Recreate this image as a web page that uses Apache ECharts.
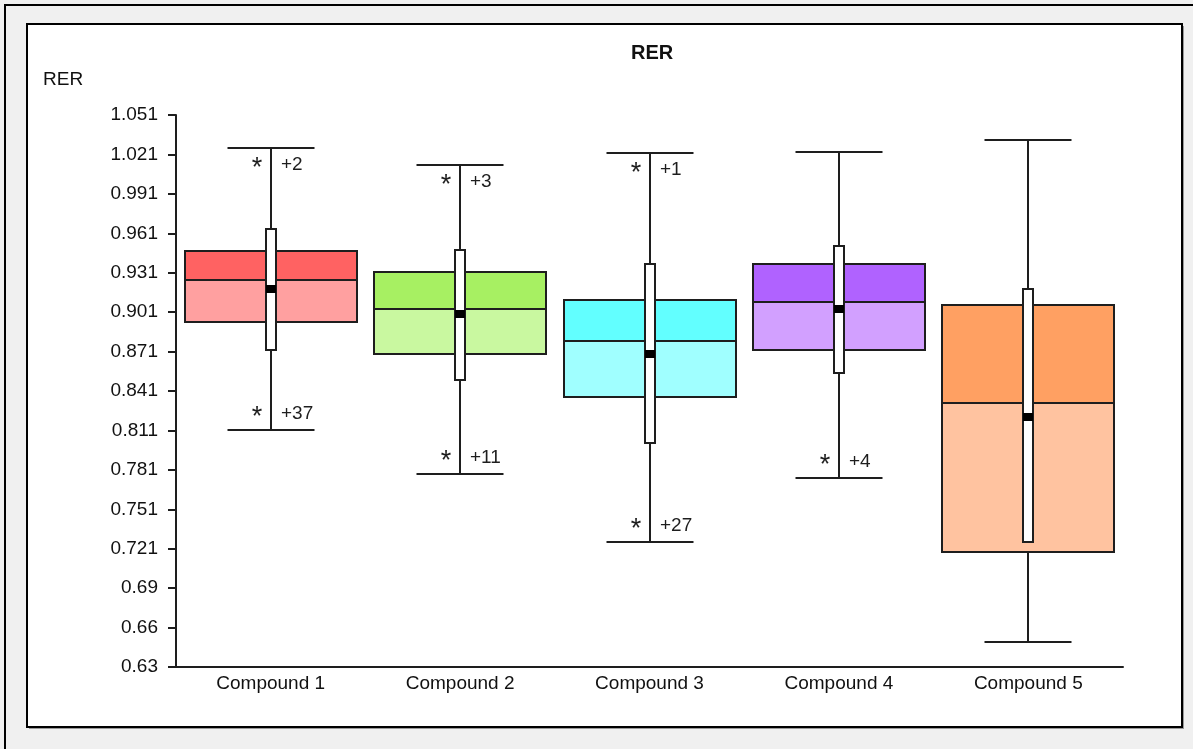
<!DOCTYPE html>
<html><head><meta charset="utf-8">
<script src="https://cdn.jsdelivr.net/npm/echarts@6/dist/echarts.min.js"></script>
<style>html,body{margin:0;padding:0;background:#f0f0f0;} #c{width:1193px;height:749px;}</style>
</head><body><div id="c"></div>
<script>
const categories = ['Compound 1', 'Compound 2', 'Compound 3', 'Compound 4', 'Compound 5'];
const whiskerLow  = [0.811, 0.777, 0.725, 0.774, 0.649];
const q1          = [0.893, 0.869, 0.836, 0.872, 0.718];
const median      = [0.925, 0.903, 0.879, 0.908, 0.831];
const q3          = [0.947, 0.931, 0.910, 0.937, 0.906];
const whiskerHigh = [1.026, 1.013, 1.022, 1.023, 1.032];
const barLow      = [0.872, 0.849, 0.801, 0.854, 0.725];
const barHigh     = [0.964, 0.948, 0.937, 0.951, 0.918];
const mean        = [0.918, 0.899, 0.869, 0.903, 0.821];
const topOutliers    = ['+2', '+3', '+1', '', ''];
const bottomOutliers = ['+37', '+11', '+27', '+4', ''];
const tickLabels = ['0.63', '0.66', '0.69', '0.721', '0.751', '0.781', '0.811', '0.841',
                    '0.871', '0.901', '0.931', '0.961', '0.991', '1.021', '1.051'];
const yMin = 0.63, yMax = 1.051;
const upperColors = ['#ff6262', '#a7f062', '#62ffff', '#b062ff', '#ffa062'];
const lowerColors = ['#ffa0a0', '#c9f8a0', '#a0ffff', '#d2a0ff', '#ffc3a0'];

const step = (yMax - yMin) / (tickLabels.length - 1);
const tickValues = tickLabels.map((_, i) => yMin + i * step);
const FONT = 'Liberation Sans';
const INK = '#1e1e1e';

const data = categories.map((c, i) => [i, whiskerLow[i], q1[i], median[i], q3[i], whiskerHigh[i], barLow[i], barHigh[i], mean[i]]);

function renderItem(params, api) {
  const i = api.value(0);
  const cx = Math.round(api.coord([i, yMin])[0]);
  const band = api.size([1, 0])[0];
  const boxW = Math.round(band * 0.91), capW = Math.round(band * 0.46), barW = 10;
  const y = v => Math.round(api.coord([i, v])[1]);
  const yWL = y(api.value(1)), yQ1 = y(api.value(2)), yMed = y(api.value(3)), yQ3 = y(api.value(4));
  const yWH = y(api.value(5)), yBL = y(api.value(6)), yBH = y(api.value(7)), yMean = y(api.value(8));
  const bx = cx - Math.round(boxW / 2);
  const stroke = { stroke: INK, lineWidth: 2 };
  const kids = [
    { type: 'line', shape: { x1: cx, y1: yWH, x2: cx, y2: yWL }, style: stroke },
    { type: 'line', shape: { x1: cx - capW / 2, y1: yWH, x2: cx + capW / 2, y2: yWH }, style: stroke },
    { type: 'line', shape: { x1: cx - capW / 2, y1: yWL, x2: cx + capW / 2, y2: yWL }, style: stroke },
    { type: 'rect', shape: { x: bx, y: yMed, width: boxW, height: yQ1 - yMed }, style: { fill: lowerColors[i], stroke: INK, lineWidth: 2 } },
    { type: 'rect', shape: { x: bx, y: yQ3, width: boxW, height: yMed - yQ3 }, style: { fill: upperColors[i], stroke: INK, lineWidth: 2 } },
    { type: 'rect', shape: { x: cx - barW / 2, y: yBH, width: barW, height: yBL - yBH }, style: { fill: '#ffffff', stroke: INK, lineWidth: 2 } },
    { type: 'rect', shape: { x: cx - barW / 2, y: yMean - 4, width: barW, height: 8 }, style: { fill: '#000000' } }
  ];
  const addNote = (txt, yc) => {
    if (!txt) return;
    kids.push({ type: 'text', style: { text: '*', x: cx - 14, y: yc + 4, align: 'center', verticalAlign: 'middle', fontSize: 27, fontFamily: FONT, fill: INK } });
    kids.push({ type: 'text', style: { text: txt, x: cx + 10, y: yc, align: 'left', verticalAlign: 'middle', fontSize: 19, fontFamily: FONT, fill: INK } });
  };
  addNote(topOutliers[i], yWH + 17);
  addNote(bottomOutliers[i], yWL - 16);
  return { type: 'group', children: kids };
}

const chart = echarts.init(document.getElementById('c'), null, { renderer: 'canvas' });
chart.setOption({
  animation: false,
  backgroundColor: '#f0f0f0',
  title: {
    text: 'RER', left: 626, top: 38,
    textStyle: { fontSize: 20, fontWeight: 'bold', fontFamily: FONT, color: '#111' }
  },
  graphic: [
    { type: 'rect', z: -10, shape: { x: 5, y: 5, width: 1220, height: 780 }, style: { fill: '#f0f0f0', stroke: '#000', lineWidth: 2 } },
    { type: 'rect', z: -9, shape: { x: 29, y: 26, width: 1155, height: 703 }, style: { fill: '#9a9a9a' } },
    { type: 'rect', z: -8, shape: { x: 27, y: 24, width: 1155, height: 703 }, style: { fill: '#ffffff', stroke: '#000', lineWidth: 2 } },
    { type: 'text', z: 5, style: { text: 'RER', x: 43, y: 80, verticalAlign: 'middle', fontSize: 19, fontFamily: FONT, fill: '#111' } }
  ],
  grid: { left: 176, right: 70, top: 115, bottom: 82, containLabel: false, outerBoundsMode: 'none' },
  xAxis: {
    type: 'category', data: categories, boundaryGap: true,
    axisLine: { show: true, lineStyle: { color: INK, width: 2 } },
    axisTick: { show: false },
    axisLabel: { color: '#111', fontSize: 19, fontFamily: FONT, margin: 7 },
    splitLine: { show: false }
  },
  yAxis: {
    type: 'value', min: yMin, max: yMax,
    axisLine: { show: true, lineStyle: { color: INK, width: 2 } },
    axisTick: { show: true, length: 8, lineStyle: { color: INK, width: 2 }, customValues: tickValues },
    axisLabel: {
      customValues: tickValues, color: '#111', fontSize: 19, fontFamily: FONT, margin: 18,
      formatter: v => tickLabels[Math.round((v - yMin) / step)]
    },
    splitLine: { show: false }
  },
  series: [{
    type: 'custom', renderItem: renderItem, data: data,
    encode: { x: 0, y: [1, 5] }, clip: false
  }]
});
</script>
</body></html>
